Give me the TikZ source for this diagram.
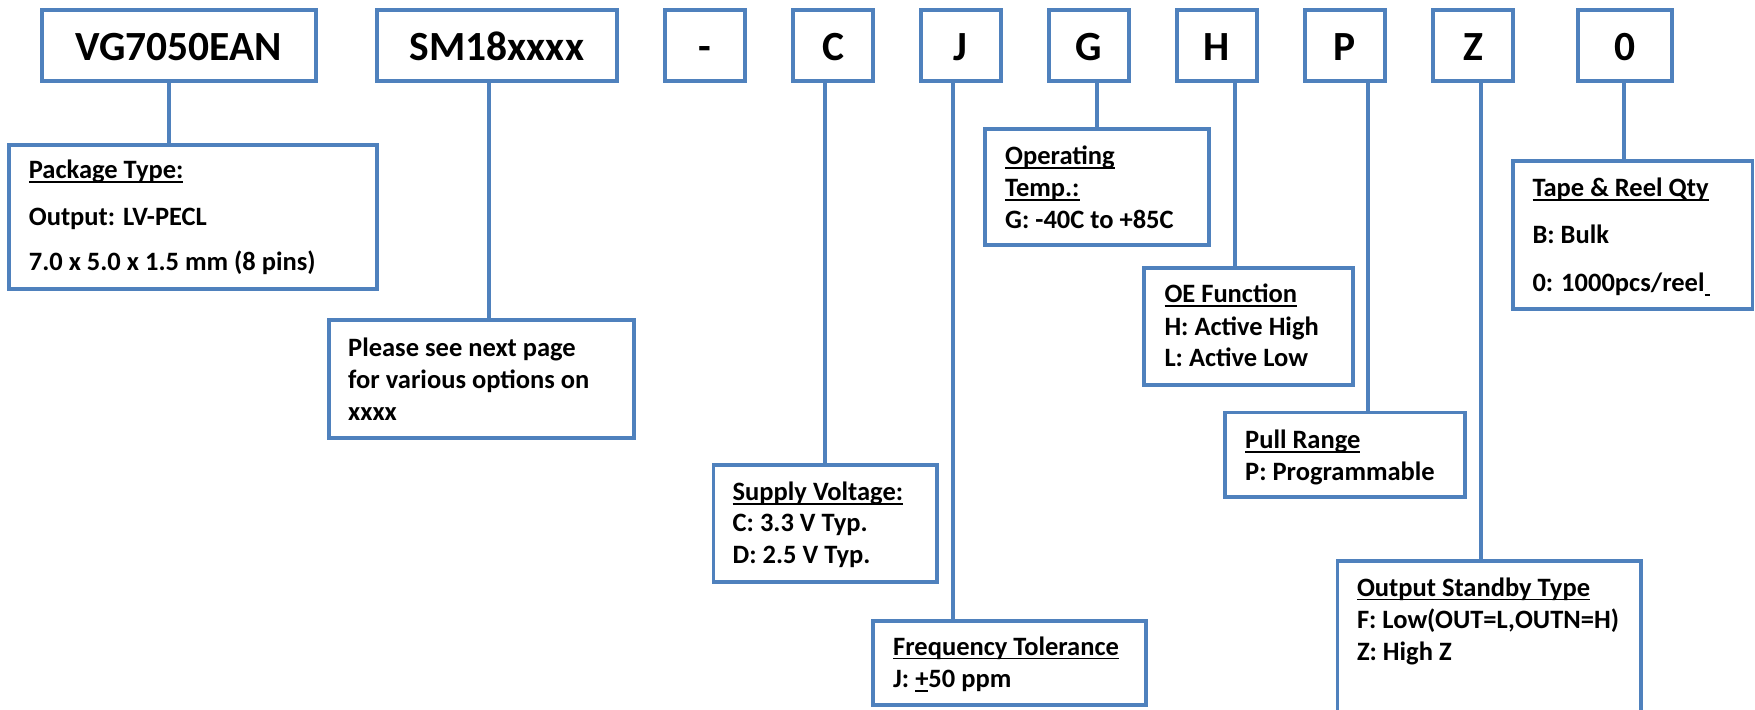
\documentclass[tikz,border=0pt]{standalone}
\usepackage{fontspec}
\setmainfont{Carlito}
\definecolor{boxblue}{RGB}{79,129,189}
\newcommand\ulx[1]{\setbox0\hbox{#1}\rlap{\rule[-4.2pt]{\wd0}{1.6pt}}\box0\relax}
\begin{document}
\begin{tikzpicture}[x=1pt,y=-1pt,
  bx/.style={draw=boxblue, line width=3.8pt, inner sep=0pt, outer sep=0pt, anchor=north west, fill=white},
  topbox/.style={bx, minimum height=70.4pt},
  toptxt/.style={anchor=base, inner sep=0pt, font=\bfseries\fontsize{41.5}{45}\selectfont},
  txt/.style={anchor=base west, inner sep=0pt, font=\bfseries\fontsize{26.5}{30}\selectfont},
  conn/.style={draw=boxblue, line width=3.8pt}]
\useasboundingbox (0,0) rectangle (1755,709);
% connector x positions
\coordinate (cVG) at (168.8,0);
\coordinate (cSM) at (488.8,0);
\coordinate (cC) at (825.3,0);
\coordinate (cJ) at (953.3,0);
\coordinate (cG) at (1097,0);
\coordinate (cH) at (1235,0);
\coordinate (cP) at (1368.3,0);
\coordinate (cZ) at (1481,0);
\coordinate (c0) at (1624.3,0);
% top boxes
\node[topbox, minimum width=274pt] (tVG) at (41.7,10.3) {};
\node[topbox, minimum width=240pt] (tSM) at (377,10.3) {};
\node[topbox, minimum width=79.4pt] (tDash) at (665.3,10.3) {};
\node[topbox, minimum width=80.3pt] (tC) at (793,10.3) {};
\node[topbox, minimum width=80pt] (tJ) at (920.7,10.3) {};
\node[topbox, minimum width=80pt] (tG) at (1049,10.3) {};
\node[topbox, minimum width=80.6pt] (tH) at (1176.7,10.3) {};
\node[topbox, minimum width=80pt] (tP) at (1305,10.3) {};
\node[topbox, minimum width=79.4pt] (tZ) at (1433.3,10.3) {};
\node[topbox, minimum width=94.6pt] (t0) at (1577.7,10.3) {};
\node[toptxt] (xVG) at (178.7,60) {VG7050EAN};
\node[toptxt] (xSM) at (497,60) {SM18xxxx};
\node[toptxt] (xDash) at (705,60) {-};
\node[toptxt] (xC) at (833.2,60) {C};
\node[toptxt] (xJ) at (960.7,60) {J};
\node[toptxt] (xG) at (1089,60) {G};
\node[toptxt] (xH) at (1217,60) {H};
\node[toptxt] (xP) at (1345,60) {P};
\node[toptxt] (xZ) at (1473,60) {Z};
\node[toptxt] (x0) at (1625,60) {0};
% sub boxes
\node[bx, minimum width=367.4pt, minimum height=143.4pt] (bPkg) at (9.2,145.3) {};
\node[bx, minimum width=305pt, minimum height=118.3pt] (bPls) at (329,320) {};
\node[bx, minimum width=223.9pt, minimum height=116.7pt] (bSup) at (713.4,465) {};
\node[bx, minimum width=272.8pt, minimum height=84.3pt] (bFrq) at (873,620.7) {};
\node[bx, minimum width=224.3pt, minimum height=115.7pt] (bOpt) at (985,129.3) {};
\node[bx, minimum width=208.7pt, minimum height=116.7pt] (bOE) at (1144.3,268.3) {};
\node[bx, minimum width=239.8pt, minimum height=84.8pt] (bPul) at (1225,412.5) {};
\node[bx, minimum width=303.3pt, minimum height=160pt] (bOut) at (1337.4,561) {};
\node[bx, minimum width=239.5pt, minimum height=148.3pt] (bTap) at (1513,161) {};
% connectors
\draw[conn] (tVG.south -| cVG) -- (bPkg.north -| cVG);
\draw[conn] (tSM.south -| cSM) -- (bPls.north -| cSM);
\draw[conn] (tC.south -| cC) -- (bSup.north -| cC);
\draw[conn] (tJ.south -| cJ) -- (bFrq.north -| cJ);
\draw[conn] (tG.south -| cG) -- (bOpt.north -| cG);
\draw[conn] (tH.south -| cH) -- (bOE.north -| cH);
\draw[conn] (tP.south -| cP) -- (bPul.north -| cP);
\draw[conn] (tZ.south -| cZ) -- (bOut.north -| cZ);
\draw[conn] (t0.south -| c0) -- (bTap.north -| c0);
% texts
\node[txt] (pk1) at (28.7,178.5) {\ulx{Package Type:}};
\node[txt] (pk2) at (28.7,225) {Output: LV-PECL};
\node[txt] (pk3) at (28.7,270.7) {7.0 x 5.0 x 1.5 mm (8 pins)};
\node[txt] (pl1) at (348,356) {Please see next page};
\node[txt] (pl2) at (348,388.3) {for various options on};
\node[txt] (pl3) at (348,420) {xxxx};
\node[txt] (su1) at (732.5,500.7) {\ulx{Supply Voltage:}};
\node[txt] (su2) at (732.5,531.7) {C: 3.3 V Typ.};
\node[txt] (su3) at (732.5,563.3) {D: 2.5 V Typ.};
\node[txt] (fr1) at (893,655) {\ulx{Frequency Tolerance}};
\node[txt] (fr2) at (893,687.3) {J: \ulx{+}50 ppm};
\node[txt] (op1) at (1005,164.3) {\ulx{Operating}};
\node[txt] (op2) at (1005,196.7) {\ulx{Temp.:}};
\node[txt] (op3) at (1005,228.3) {G: -40C to +85C};
\node[txt] (oe1) at (1164.3,302.7) {\ulx{OE Function}};
\node[txt] (oe2) at (1164.3,335) {H: Active High};
\node[txt] (oe3) at (1164.3,366.7) {L: Active Low};
\node[txt] (pu1) at (1245,448.3) {\ulx{Pull Range}};
\node[txt] (pu2) at (1245,480) {P: Programmable};
\node[txt] (ou1) at (1356.8,596) {\ulx{Output Standby Type}};
\node[txt] (ou2) at (1356.8,628.3) {F: Low(OUT=L,OUTN=H)};
\node[txt] (ou3) at (1356.8,660) {Z: High Z};
\node[txt] (ta1) at (1532.3,196.7) {\ulx{Tape \& Reel Qty}};
\node[txt] (ta2) at (1532.3,243.3) {B: Bulk};
\node[txt] (ta3) at (1532.3,291.7) {0: 1000pcs/reel\ulx{\hspace{5pt}}};
\end{tikzpicture}
\end{document}
